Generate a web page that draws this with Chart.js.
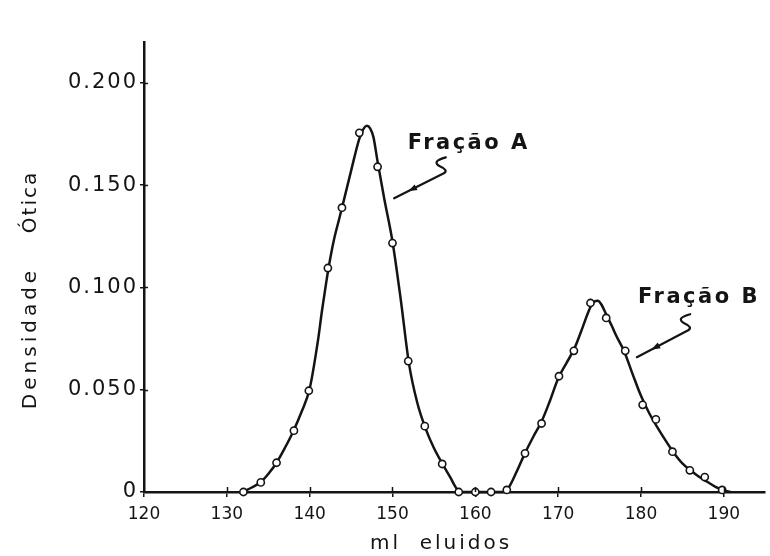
<!DOCTYPE html>
<html>
<head>
<meta charset="utf-8">
<script src="https://cdn.jsdelivr.net/npm/chart.js@4/dist/chart.umd.min.js"></script>
<style>
  html, body { margin: 0; padding: 0; background: #fff; }
  #c { display: block; }
</style>
</head>
<body>
<canvas id="c" width="770" height="556"></canvas>
<script>
const markerMl = [132.0, 134.1, 136.0, 138.1, 139.9, 142.2, 143.9, 146.0, 148.2, 150.0, 151.9, 153.9, 156.0,
                  158.0, 160.0, 161.9, 163.8,
                  166.0, 168.0, 170.1, 171.9, 173.9, 175.8, 178.1, 180.2, 181.8, 183.8, 185.9, 187.7, 189.8];
const markerDensity = [0, 0.0047, 0.0143, 0.030, 0.0495, 0.1095, 0.139, 0.1756, 0.159, 0.1217, 0.064, 0.0322, 0.0137,
                       0, 0, 0, 0.001,
                       0.0189, 0.0335, 0.0566, 0.069, 0.0924, 0.0851, 0.069, 0.0426, 0.0355, 0.0197, 0.0106, 0.0073, 0.001];

// ---- drawn curve ----
const curveMl = [131.7, 132.5, 133, 134, 135, 136, 137, 138, 139, 140, 141, 141.5, 142, 142.5, 143, 143.5, 144, 145, 146, 146.5, 146.9,
                 147.3, 147.7, 148.2, 149, 150, 151, 152, 153, 154, 155, 156, 157, 157.6, 158.1,
                 163.3, 164, 165, 166, 167, 168, 169, 170, 171, 172, 173, 173.5, 174, 174.4,
                 174.8, 175.2, 175.8, 176.5, 177, 178, 179, 180, 181, 182, 183, 184, 185, 186, 187, 188, 189, 190, 190.8];
const curveDensity = [0, 0.0012, 0.0022, 0.0045, 0.0088, 0.0143, 0.0215, 0.0295, 0.039, 0.0505, 0.074, 0.089, 0.1025, 0.1145, 0.1245, 0.1325, 0.1405, 0.157, 0.1728, 0.1775, 0.179,
                      0.1778, 0.1735, 0.1615, 0.1435, 0.1225, 0.094, 0.0625, 0.0435, 0.031, 0.0215, 0.014, 0.007, 0.0025, 0,
                      0, 0.002, 0.010, 0.019, 0.027, 0.0345, 0.0445, 0.0555, 0.063, 0.0705, 0.081, 0.0865, 0.0912, 0.0932,
                      0.0935, 0.0918, 0.0868, 0.081, 0.0765, 0.0685, 0.0575, 0.047, 0.0385, 0.0315, 0.025, 0.019, 0.014, 0.0105, 0.0075, 0.005, 0.0025, 0.0008, 0];

const xTicks = [120, 130, 140, 150, 160, 170, 180, 190];
const xTickLabels = ['120', '130', '140', '150', '160', '170', '180', '190'];
const yTicks = [0, 0.05, 0.10, 0.15, 0.20];
const yTickLabels = ['0', '0.050', '0.100', '0.150', '0.200'];
const xTitle = 'ml  eluidos';
const yTitleA = 'Densidade';
const yTitleB = 'Ótica';
const fractionLabels = ['Fração A', 'Fração B'];

// annotation anchors in data units
const labelAnchors = [{x: 159.2, y: 0.1675}, {x: 187.0, y: 0.0923}];
const arrowStarts = [{x: 156.2, y: 0.1558}, {x: 185.7, y: 0.0791}];
const arrowEnds = [{x: 150.2, y: 0.1436}, {x: 179.5, y: 0.0659}];

const INK = '#141414';
const FONT = '"DejaVu Sans", sans-serif';

const textPlugin = {
  id: 'textPlugin',
  beforeDraw(chart) {
    const ctx = chart.ctx;
    ctx.save();
    ctx.fillStyle = '#fff';
    ctx.fillRect(0, 0, chart.width, chart.height);
    ctx.restore();
  },
  afterDraw(chart) {
    const ctx = chart.ctx;
    const xs = chart.scales.x, ys = chart.scales.y;
    const area = chart.chartArea;
    ctx.save();
    ctx.fillStyle = INK;
    ctx.strokeStyle = INK;

    // inner halves of the tick crosses
    ctx.lineWidth = 1.5;
    ctx.beginPath();
    xTicks.forEach(v => {
      if (v === xs.min) return;
      const px = Math.round(xs.getPixelForValue(v)) + 0.5;
      ctx.moveTo(px, area.bottom);
      ctx.lineTo(px, area.bottom - 5);
    });
    yTicks.forEach(v => {
      if (v === 0) return;
      const py = Math.round(ys.getPixelForValue(v)) + 0.5;
      ctx.moveTo(area.left, py);
      ctx.lineTo(area.left + 4, py);
    });
    ctx.stroke();

    // y tick labels
    ctx.font = '21px ' + FONT;
    ctx.letterSpacing = '2px';
    ctx.textAlign = 'right';
    ctx.textBaseline = 'middle';
    yTicks.forEach((v, i) => {
      ctx.fillText(yTickLabels[i], 138, ys.getPixelForValue(v));
    });

    // y title (rotated)
    ctx.save();
    ctx.translate(31, 0);
    ctx.rotate(-Math.PI / 2);
    ctx.textAlign = 'center';
    ctx.textBaseline = 'middle';
    ctx.font = '20px ' + FONT;
    ctx.letterSpacing = '4px';
    ctx.fillText(yTitleA, -338, 0);
    ctx.letterSpacing = '2px';
    ctx.fillText(yTitleB, -202, 0);
    ctx.restore();

    // x title
    ctx.font = '20px ' + FONT;
    ctx.letterSpacing = '3px';
    ctx.textAlign = 'center';
    ctx.textBaseline = 'middle';
    ctx.fillText(xTitle, 441, 544);

    // fraction labels
    ctx.font = 'bold 21px ' + FONT;
    ctx.letterSpacing = '2.5px';
    ctx.textAlign = 'center';
    ctx.textBaseline = 'alphabetic';
    fractionLabels.forEach((t, i) => {
      ctx.fillText(t, xs.getPixelForValue(labelAnchors[i].x), ys.getPixelForValue(labelAnchors[i].y));
    });

    // arrows with squiggle
    ctx.lineWidth = 2.2;
    ctx.lineCap = 'round';
    ctx.lineJoin = 'round';
    for (let i = 0; i < arrowStarts.length; i++) {
      const jx = xs.getPixelForValue(arrowStarts[i].x), jy = ys.getPixelForValue(arrowStarts[i].y);
      const ex = xs.getPixelForValue(arrowEnds[i].x), ey = ys.getPixelForValue(arrowEnds[i].y);
      ctx.beginPath();
      ctx.moveTo(jx + 2, jy - 16);
      ctx.quadraticCurveTo(jx - 13, jy - 12, jx - 4, jy - 7);
      ctx.quadraticCurveTo(jx + 5, jy - 3, jx, jy);
      ctx.lineTo(ex, ey);
      ctx.stroke();
      // arrowhead along the line
      const dx = ex - jx, dy = ey - jy, L = Math.hypot(dx, dy);
      const ux = dx / L, uy = dy / L;
      const tx = jx + dx * 0.72, ty = jy + dy * 0.72;
      const bx = tx - ux * 9, by = ty - uy * 9;
      ctx.beginPath();
      ctx.moveTo(tx, ty);
      ctx.lineTo(bx - uy * 3.2, by + ux * 3.2);
      ctx.lineTo(bx + uy * 3.2, by - ux * 3.2);
      ctx.closePath();
      ctx.fill();
    }
    ctx.restore();
  }
};

new Chart(document.getElementById('c'), {
  type: 'scatter',
  data: {
    datasets: [
      {
        type: 'line',
        data: curveMl.map((x, i) => ({x: x, y: curveDensity[i]})),
        parsing: { xAxisKey: 'x', yAxisKey: 'y' },
        cubicInterpolationMode: 'monotone',
        borderColor: INK,
        borderWidth: 2.5,
        pointRadius: 0,
        fill: false,
        clip: false,
        order: 2
      },
      {
        data: markerMl.map((x, i) => ({x: x, y: markerDensity[i]})),
        showLine: false,
        pointRadius: 3.6,
        pointBorderWidth: 1.6,
        pointBackgroundColor: '#fff',
        pointBorderColor: INK,
        clip: false,
        order: 1
      }
    ]
  },
  options: {
    responsive: false,
    animation: false,
    devicePixelRatio: 1,
    layout: { padding: { top: 42, left: 0, right: 0, bottom: 0 } },
    plugins: { legend: { display: false }, tooltip: { enabled: false }, title: { display: false } },
    scales: {
      x: {
        type: 'linear',
        position: 'bottom',
        min: 120,
        max: 194.9,
        afterBuildTicks: s => { s.ticks = xTicks.map(v => ({value: v})); },
        afterFit: s => { s.height = 64; },
        grid: { display: true, drawOnChartArea: false, drawTicks: true, tickLength: 5, color: INK, lineWidth: 1.5 },
        border: { display: true, color: INK, width: 2.5 },
        ticks: {
          autoSkip: false, maxRotation: 0, padding: 7, color: INK,
          font: { family: 'DejaVu Sans', size: 17 },
          callback: (v, i) => xTickLabels[i]
        }
      },
      y: {
        type: 'linear',
        min: 0,
        max: 0.22,
        afterBuildTicks: s => { s.ticks = yTicks.map(v => ({value: v})); },
        afterFit: s => { s.width = 144; },
        grid: { display: true, drawOnChartArea: false, drawTicks: true, tickLength: 4, color: INK, lineWidth: 1.5 },
        border: { display: true, color: INK, width: 2.5 },
        ticks: { display: false }
      }
    }
  },
  plugins: [textPlugin]
});
</script>
</body>
</html>
